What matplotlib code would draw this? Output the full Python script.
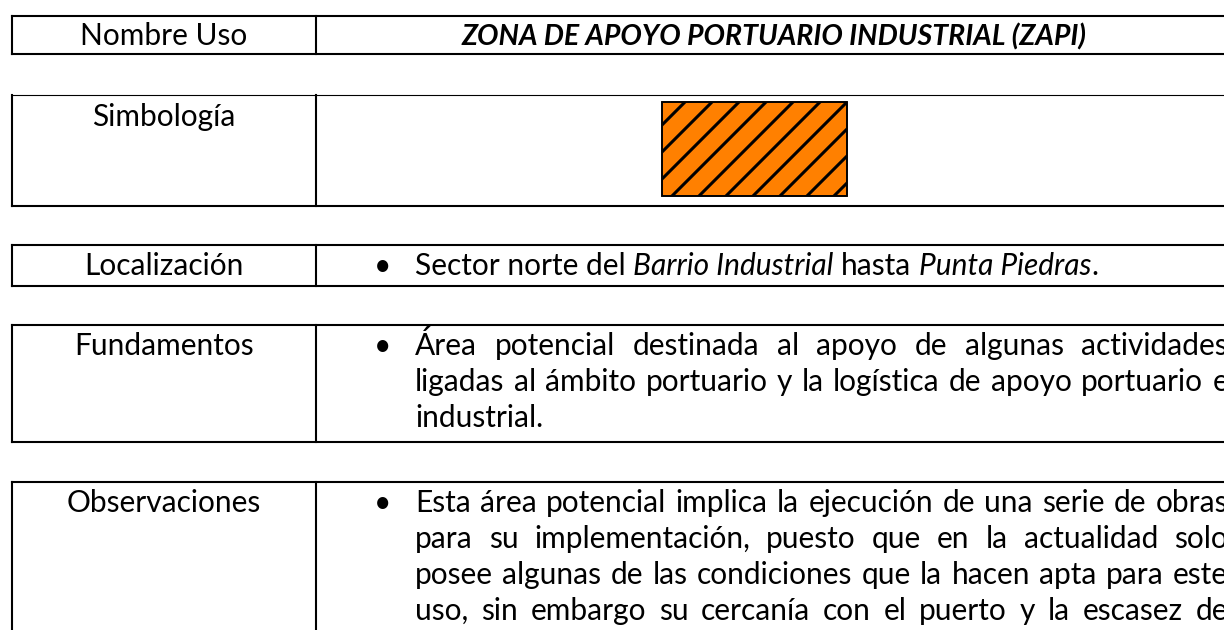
import matplotlib
matplotlib.use("Agg")
import matplotlib.pyplot as plt
from matplotlib.patches import Rectangle

# ---- content ----
row_labels = ["Nombre Uso", "Simbología", "Localización", "Fundamentos", "Observaciones"]
use_name = "ZONA DE APOYO PORTUARIO INDUSTRIAL (ZAPI)"
symbol_color = "#FF8000"
localizacion = [("Sector norte del ", "normal"), ("Barrio Industrial", "italic"),
                (" hasta ", "normal"), ("Punta Piedras", "italic"), (".", "normal")]
fundamentos = ["Área potencial destinada al apoyo de algunas actividades",
               "ligadas al ámbito portuario y la logística de apoyo portuario e",
               "industrial."]
observaciones = ["Esta área potencial implica la ejecución de una serie de obras",
                 "para su implementación, puesto que en la actualidad solo",
                 "posee algunas de las condiciones que la hacen apta para este",
                 "uso, sin embargo su cercanía con el puerto y la escasez de"]

# ---- layout (pixels) ----
W, H = 1224, 630
FONT = "Lato"
XL, XD, XR = 12, 316, 1232
rows = [(16, 54), (95, 206), (245, 286), (325, 442), (482, 720)]
LW = 1.5
TXT_X0, TXT_X1 = 415, 1228
BULLET_X = 383
LINE_H = 36

fig = plt.figure(figsize=(W / 100, H / 100), dpi=100)
ax = fig.add_axes([0, 0, 1, 1])
ax.set_xlim(0, W)
ax.set_ylim(H, 0)
ax.axis("off")
fig.canvas.draw()
renderer = fig.canvas.get_renderer()


def tw(s, fs, style="normal", weight="normal"):
    t = ax.text(0, 0, s, fontsize=fs, family=FONT, style=style, weight=weight)
    w = t.get_window_extent(renderer).width
    t.remove()
    return w


def seg_width(segs, fs):
    sp = tw("a a", fs) - tw("aa", fs)
    total = 0
    for s, st in segs:
        n_lead = len(s) - len(s.lstrip(" "))
        n_trail = len(s) - len(s.rstrip(" "))
        core = s.strip(" ")
        total += (n_lead + n_trail) * sp + (tw(core, fs, st) if core else 0)
    return total


# fit the font size to the measured width of the location line
fs = 20 * 685 / seg_width(localizacion, 20)
fs_head = 20 * 625 / tw(use_name, 20, "italic", "bold")

# ---- table lines ----
for i, (top, bot) in enumerate(rows):
    ax.plot([XL, XR], [top, top], color="black", lw=0.8 if i == 1 else LW, solid_capstyle="projecting")
    ax.plot([XL, XR], [bot, bot], color="black", lw=LW, solid_capstyle="projecting")
    ax.plot([XL, XL], [top, bot], color="black", lw=LW)
    ax.plot([XD, XD], [top, bot], color="black", lw=LW)

# ---- labels ----
label_baselines = [45, 126, 275, 355, 512]
for lab, yb in zip(row_labels, label_baselines):
    ax.text((XL + XD) / 2, yb, lab, fontsize=fs, family=FONT, ha="center", va="baseline")

ax.text((XD + XR) / 2, 45, use_name, fontsize=fs_head, family=FONT, style="italic",
        weight="bold", ha="center", va="baseline")

# ---- symbol ----
bx0, by0, bx1, by1 = 662, 102, 847, 196
box = Rectangle((bx0, by0), bx1 - bx0, by1 - by0, facecolor=symbol_color,
                edgecolor="black", lw=1.2, zorder=2)
ax.add_patch(box)
step = 27
c0 = bx1 + by0
k_min = int((bx0 + by0 - c0) // step) - 1
k_max = int((bx1 + by1 - c0) // step) + 1
for k in range(k_min, k_max + 1):
    c = c0 + k * step
    ys = [by0 - 60, by1 + 60]
    xs = [c - y for y in ys]
    ln, = ax.plot(xs, ys, color="black", lw=2.2, zorder=3)
    ln.set_clip_path(box)
ax.add_patch(Rectangle((bx0, by0), bx1 - bx0, by1 - by0, facecolor="none",
                       edgecolor="black", lw=1.2, zorder=4))


# ---- body text ----
def bullet(yb):
    ax.text(BULLET_X, yb, "•", fontsize=fs, family=FONT, ha="center", va="baseline")


def justified(line, yb, justify=True):
    words = line.split(" ")
    widths = [tw(w, fs) for w in words]
    if justify and len(words) > 1:
        gap = (TXT_X1 - TXT_X0 - sum(widths)) / (len(words) - 1)
    else:
        gap = tw("a a", fs) - tw("aa", fs)
    x = TXT_X0
    for w, wd in zip(words, widths):
        ax.text(x, yb, w, fontsize=fs, family=FONT, ha="left", va="baseline")
        x += wd + gap


# localizacion (mixed styles)
bullet(275)
sp = tw("a a", fs) - tw("aa", fs)
x = TXT_X0
for s, st in localizacion:
    n_lead = len(s) - len(s.lstrip(" "))
    n_trail = len(s) - len(s.rstrip(" "))
    core = s.strip(" ")
    x += n_lead * sp
    ax.text(x, 275, core, fontsize=fs, family=FONT, style=st, ha="left", va="baseline")
    x += tw(core, fs, st) + n_trail * sp

# fundamentos
bullet(355)
for i, line in enumerate(fundamentos):
    justified(line, 355 + i * LINE_H, justify=(i < len(fundamentos) - 1))

# observaciones
bullet(512)
for i, line in enumerate(observaciones):
    justified(line, 512 + i * LINE_H, justify=True)

fig.savefig("out.png", dpi=100)
